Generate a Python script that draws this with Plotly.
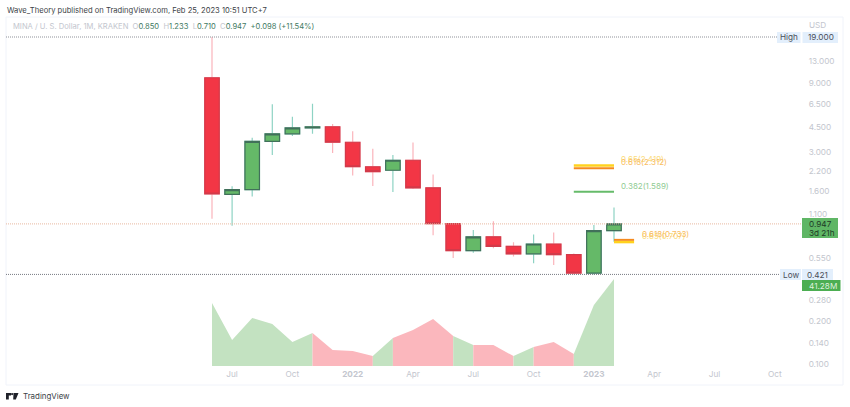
import math
import plotly.graph_objects as go

W, H = 850, 407
L, R, T, B = 6, 801, 17, 368

# ---------- data (monthly candles Jun 2021 .. Feb 2023, x = month index) ----------
months = list(range(21))
opens  = [9.88, 1.52, 1.64, 3.56, 4.02, 4.42, 4.50, 3.51, 2.37, 2.24, 2.63, 1.69, 0.95, 0.617, 0.77, 0.66, 0.586, 0.686, 0.578, 0.43, 0.85]
highs  = [19.0, 1.73, 3.77, 6.46, 5.28, 6.51, 4.71, 4.18, 3.16, 2.86, 3.50, 2.09, 0.955, 0.86, 0.99, 0.705, 0.80, 0.826, 0.59, 0.93, 1.233]
lows   = [1.03, 0.92, 1.47, 2.86, 3.88, 4.02, 2.95, 2.06, 1.74, 1.58, 1.66, 0.79, 0.548, 0.595, 0.64, 0.562, 0.504, 0.49, 0.421, 0.421, 0.71]
closes = [1.53, 1.64, 3.56, 4.02, 4.42, 4.50, 3.51, 2.37, 2.19, 2.63, 1.69, 0.95, 0.617, 0.77, 0.66, 0.586, 0.686, 0.578, 0.43, 0.85, 0.947]
volumes = [29.9, 12.3, 22.8, 19.9, 11.4, 15.7, 7.6, 7.1, 4.7, 13.3, 17.1, 22.3, 14.2, 10.0, 10.0, 4.7, 9.0, 11.4, 5.7, 28.9, 41.28]
# colour of each stretch between consecutive months: g = green, r = red
volume_segments = list("ggggg" "rrr" "g" "rrr" "g" "rr" "g" "rr" "gg")

tick_months = [1, 4, 7, 10, 13, 16, 19, 22, 25, 28]
tick_month_labels = ["Jul", "Oct", "<b>2022</b>", "Apr", "Jul", "Oct", "<b>2023</b>", "Apr", "Jul", "Oct"]
price_ticks = [13, 9, 6.5, 4.5, 3, 2.2, 1.6, 1.1, 0.55, 0.28, 0.2, 0.14, 0.1]
price_tick_labels = ["13.000", "9.000", "6.500", "4.500", "3.000", "2.200", "1.600", "1.100", "0.550", "0.280", "0.200", "0.140", "0.100"]

high_price, low_price, last_price = 19.0, 0.421, 0.947

fib_upper_x = [18, 20]
fib_lower_x = [20, 21]
fib_levels = [
    ("0.65", 2.419, fib_upper_x, "#ffd21f", 2.4),
    ("0.618", 2.312, fib_upper_x, "#f58a1f", 2.0),
    ("0.382", 1.589, fib_upper_x, "#66bb6a", 2.0),
    ("0.65", 0.707, fib_lower_x, "#ffd21f", 2.4),
    ("0.618", 0.733, fib_lower_x, "#f58a1f", 2.0),
]

# ---------- helpers for page furniture placed in pixels ----------
def xp(x):
    return (x - L) / (R - L)

def yp(y):
    return (B - y) / (B - T)

def month_at(px):
    return (px - 212) / 20.1

FONT = "Inter, 'Liberation Sans', sans-serif"
shapes, annos = [], []

def label(x, y, text, size=8.2, color="#333", anchor="left", family=FONT):
    annos.append(dict(x=xp(x), y=yp(y), xref="paper", yref="paper", text=text, showarrow=False,
                      xanchor=anchor, yanchor="middle", align=anchor, borderpad=0,
                      font=dict(size=size, color=color, family=family)))

def box(x0, y0, x1, y1, fill):
    shapes.append(dict(type="rect", xref="paper", yref="paper", x0=xp(x0), x1=xp(x1), y0=yp(y0), y1=yp(y1),
                       fillcolor=fill, line=dict(width=0), layer="above"))

fig = go.Figure()

# reference lines
line_end = month_at(R)
fig.add_trace(go.Scatter(x=[month_at(L), month_at(777)], y=[high_price, high_price], mode="lines",
                         line=dict(color="#8f9299", width=1, dash="1px 1px"), hoverinfo="skip"))
fig.add_trace(go.Scatter(x=[month_at(L), month_at(780)], y=[low_price, low_price], mode="lines",
                         line=dict(color="#777a82", width=1, dash="1px 1px"), hoverinfo="skip"))
fig.add_trace(go.Scatter(x=[month_at(L), line_end], y=[last_price, last_price], mode="lines",
                         line=dict(color="#e8b9a0", width=1, dash="1px 1px"), hoverinfo="skip"))

# wicks
fig.add_trace(go.Candlestick(x=months, open=opens, high=highs, low=lows, close=closes, whiskerwidth=0,
                             increasing=dict(line=dict(color="#8ed3c4", width=1.2), fillcolor="#8ed3c4"),
                             decreasing=dict(line=dict(color="#fbb4bb", width=1.2), fillcolor="#fbb4bb"),
                             hoverinfo="skip"))
# bodies
body_high = [max(o, c) for o, c in zip(opens, closes)]
body_low = [min(o, c) for o, c in zip(opens, closes)]
fig.add_trace(go.Candlestick(x=months, open=opens, high=body_high, low=body_low, close=closes, whiskerwidth=0,
                             increasing=dict(line=dict(color="#41705a", width=1.2), fillcolor="#65b968"),
                             decreasing=dict(line=dict(color="#d23a4a", width=1.2), fillcolor="#f23645"),
                             hoverinfo="skip"))

# fib levels
for name, value, xs, color, width in fib_levels:
    fig.add_trace(go.Scatter(x=xs, y=[value, value], mode="lines", line=dict(color=color, width=width), hoverinfo="skip"))
    text_color = "#8fcb92" if name == "0.382" else ("#fbdc7c" if name == "0.65" else "#f9bd62")
    annos.append(dict(x=xs[1] + 0.27, y=math.log10(value), xref="x", yref="y", text=f"{name}({value:.3f})",
                      showarrow=False, xanchor="left", yanchor="middle", yshift=6,
                      font=dict(size=8, color=text_color, family=FONT)))

# volume area
colors = {"g": "#c3e2c1", "r": "#fbb7bd"}
i = 0
while i < len(volume_segments):
    j = i
    while j + 1 < len(volume_segments) and volume_segments[j + 1] == volume_segments[i]:
        j += 1
    fig.add_trace(go.Scatter(x=months[i:j + 2], y=volumes[i:j + 2], yaxis="y2", mode="lines", fill="tozeroy",
                             fillcolor=colors[volume_segments[i]], line=dict(width=0), hoverinfo="skip"))
    i = j + 1

# frame
shapes.append(dict(type="rect", xref="paper", yref="paper", x0=xp(6), x1=xp(843), y0=yp(17), y1=yp(385),
                   line=dict(color="#f0f3fa", width=1), layer="below"))

# header texts
label(6, 10, "Wave_Theory published on TradingView.com, Feb 25, 2023 10:51 UTC+7", size=7.6, color="#3c3f47")
G = "#3f7a62"
M = "#c3c6ce"
legend_text = (f"<span style='color:{M}'>MINA / U. S. Dollar, 1M, KRAKEN  O</span><span style='color:{G}'>0.850</span>"
               f"<span style='color:{M}'>  H</span><span style='color:{G}'>1.233</span>"
               f"<span style='color:{M}'>  L</span><span style='color:{G}'>0.710</span>"
               f"<span style='color:{M}'>  C</span><span style='color:{G}'>0.947</span>"
               f"<span style='color:{G}'>  +0.098 (+11.54%)</span>")
label(11.5, 27, legend_text, size=7.6)
label(808, 25, "USD", color="#c3c6ce")

# price tags
box(777, 32, 800.5, 43, "#e3effc")
box(802.5, 32, 838, 43, "#e3effc")
label(788.5, 37.5, "High", color="#4a4e58", anchor="center")
label(820.5, 37.5, "19.000", color="#4a4e58", anchor="center")
box(780, 269, 801, 280, "#e3effc")
box(802, 269, 833, 280, "#e3effc")
label(790.5, 274.5, "Low", color="#4a4e58", anchor="center")
label(817.5, 274.5, "0.421", color="#4a4e58", anchor="center")
box(802, 218, 838, 238, "#5fb665")
label(808, 223.5, "0.947", color="#1d3a26")
label(808, 233, "3d 21h", color="#1d3a26")
box(802, 280, 840.5, 291, "#4cae52")
label(808, 285.5, "41.28M", color="#dff0df")

# logo
shapes.append(dict(type="path", xref="paper", yref="paper", fillcolor="#1f2129", line=dict(width=0), layer="above",
                   path=("M {0} {1} L {2} {1} L {2} {3} L {4} {3} L {4} {5} L {0} {5} Z ".format(
                            xp(6), yp(393), xp(11), yp(395.5), xp(8.8), yp(399.5))
                         + "M {0} {1} L {2} {1} L {3} {4} L {5} {4} Z".format(
                            xp(13.5), yp(393), xp(18.5), xp(15.8), yp(399.5), xp(13.2)))))
shapes.append(dict(type="circle", xref="paper", yref="paper", x0=xp(11), x1=xp(13.2), y0=yp(395.2), y1=yp(393),
                   fillcolor="#1f2129", line=dict(width=0), layer="above"))
label(21.5, 396, "TradingView", size=7.9, color="#3c3f47")

fig.update_layout(
    width=W, height=H, autosize=False,
    margin=dict(l=L, r=W - R, t=T, b=H - B, pad=0),
    paper_bgcolor="white", plot_bgcolor="white", showlegend=False,
    boxgap=0.15, boxgroupgap=0.15,
    shapes=shapes, annotations=annos,
    xaxis=dict(range=[month_at(L), month_at(R)], rangeslider=dict(visible=False), showgrid=False, zeroline=False,
               showline=False, ticks="", tickmode="array", tickvals=tick_months, ticktext=tick_month_labels,
               tickfont=dict(size=8.2, color="#c3c6ce", family=FONT)),
    yaxis=dict(type="log", range=[1.2788 - 331 / 143.5, 1.2788 + 20 / 143.5], side="right", showgrid=False,
               zeroline=False, showline=False, ticks="outside", ticklen=5, tickcolor="rgba(0,0,0,0)",
               tickmode="array", tickvals=price_ticks, ticktext=price_tick_labels,
               tickfont=dict(size=8.2, color="#c3c6ce", family=FONT)),
    yaxis2=dict(overlaying="y", range=[-0.95, 165.6], visible=False),
)
fig.write_html("out.html", config=dict(displayModeBar=False),
               post_script="document.body.style.margin='0';document.documentElement.style.overflow='hidden';")
